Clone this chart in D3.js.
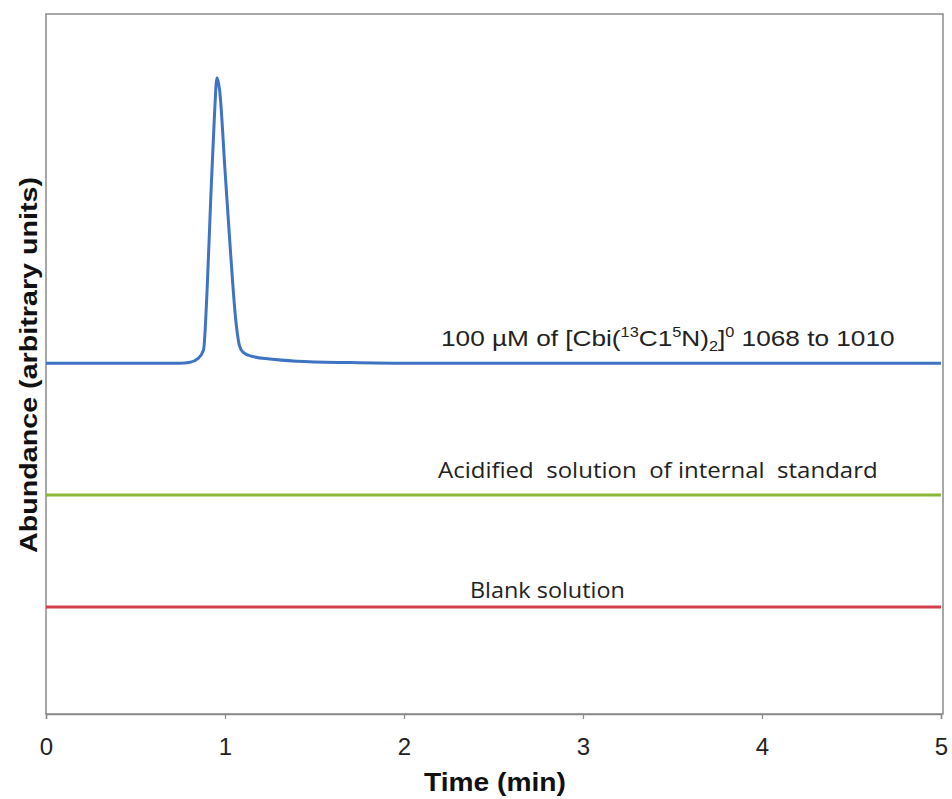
<!DOCTYPE html>
<html><head><meta charset="utf-8">
<script src="https://cdn.jsdelivr.net/npm/d3@7/dist/d3.min.js"></script>
<style>body{margin:0;background:#fff}</style>
</head><body>
<svg id="c" width="952" height="799"></svg>
<script>
// Data
const xTicks = [0, 1, 2, 3, 4, 5];
const sampleTime = [0, 0.5, 0.75, 0.8, 0.85, 0.88, 0.9, 0.92, 0.94, 0.955, 0.97, 1.0, 1.03, 1.06, 1.08, 1.1, 1.15, 1.25, 1.4, 1.7, 2.0, 3.0, 4.0, 5.0];
const sampleAbund = [50.1, 50.1, 50.1, 50.2, 50.8, 52.0, 60.6, 73.4, 84.9, 90.9, 89.1, 77.7, 66.3, 56.3, 52.7, 51.7, 51.1, 50.7, 50.4, 50.2, 50.1, 50.1, 50.1, 50.1];
const standardTime = [0, 5];
const standardAbund = [31.3, 31.3];
const blankTime = [0, 5];
const blankAbund = [15.3, 15.3];

const svg = d3.select("#c");
const L = 46, R = 941, T = 14, B = 714;
const x = d3.scaleLinear().domain([0, 5]).range([L, R]);
const y = d3.scaleLinear().domain([0, 100]).range([B, T]);

// stretch a text horizontally so it spans a target width from its start x
function fit(sel, x0, w) {
  const bw = sel.node().getBBox().width;
  const k = w / bw;
  sel.attr("transform", `translate(${x0},0) scale(${k},1) translate(${-x0},0)`);
}

// frame
svg.append("rect").attr("x", L).attr("y", T).attr("width", R - L + 2).attr("height", B - T)
  .attr("fill", "none").attr("stroke", "#8a8a8a").attr("stroke-width", 1.5);

const line = d3.line().x(d => x(d[0])).y(d => y(d[1])).curve(d3.curveMonotoneX);
const series = [
  {t: blankTime, v: blankAbund, c: "#d2414b"},
  {t: standardTime, v: standardAbund, c: "#8bb83a"},
  {t: sampleTime, v: sampleAbund, c: "#3f74c4"}
];
series.forEach(s => {
  svg.append("path").datum(s.t.map((t, i) => [t, s.v[i]]))
    .attr("d", line).attr("fill", "none").attr("stroke", s.c).attr("stroke-width", 3);
});

// x axis
const ax = svg.append("g").attr("transform", `translate(0,${B})`)
  .call(d3.axisBottom(x).tickValues(xTicks).tickFormat(d3.format("d")).tickSize(5).tickPadding(19));
ax.select(".domain").attr("stroke", "#8a8a8a").attr("stroke-width", 1.5);
ax.selectAll(".tick line").attr("stroke", "#8a8a8a").attr("stroke-width", 1.2);
ax.selectAll(".tick text").attr("font-family", "Liberation Sans, Arial, sans-serif")
  .attr("font-size", 24).attr("fill", "#222");

// axis titles
const xt = svg.append("text").attr("x", 424).attr("y", 791)
  .attr("font-family", "Liberation Sans, Arial, sans-serif").attr("font-weight", "bold")
  .attr("font-size", 25).attr("fill", "#111").text("Time (min)");
fit(xt, 424, 142);
const yt = svg.append("text").attr("transform", "translate(37,365) rotate(-90)").attr("text-anchor", "middle")
  .attr("font-family", "Liberation Sans, Arial, sans-serif").attr("font-weight", "bold")
  .attr("font-size", 24).attr("fill", "#111").attr("textLength", 376).attr("lengthAdjust", "spacingAndGlyphs")
  .text("Abundance (arbitrary units)");

// series labels
const t1 = svg.append("text").attr("x", 441).attr("y", 346)
  .attr("font-family", "Liberation Sans, Arial, sans-serif").attr("font-size", 22.5).attr("fill", "#222");
t1.append("tspan").text("100 µM of [Cbi(");
t1.append("tspan").attr("dy", -9).attr("font-size", 14).text("13");
t1.append("tspan").attr("dy", 9).text("C1");
t1.append("tspan").attr("dy", -9).attr("font-size", 14).text("5");
t1.append("tspan").attr("dy", 9).text("N)");
t1.append("tspan").attr("dy", 5).attr("font-size", 14).text("2");
t1.append("tspan").attr("dy", -5).text("]");
t1.append("tspan").attr("dy", -9).attr("font-size", 14).text("0");
t1.append("tspan").attr("dy", 9).text(" 1068 to 1010");
fit(t1, 441, 454);

const t2 = svg.append("text").attr("x", 438).attr("y", 478)
  .attr("font-family", "Open Sans, sans-serif").attr("font-size", 22).attr("fill", "#222")
  .style("white-space", "pre")
  .text("Acidified  solution  of internal  standard");
fit(t2, 438, 440);
const t3 = svg.append("text").attr("x", 470).attr("y", 598)
  .attr("font-family", "Open Sans, sans-serif").attr("font-size", 22).attr("fill", "#222")
  .text("Blank solution");
fit(t3, 470, 155);
</script>
</body></html>
